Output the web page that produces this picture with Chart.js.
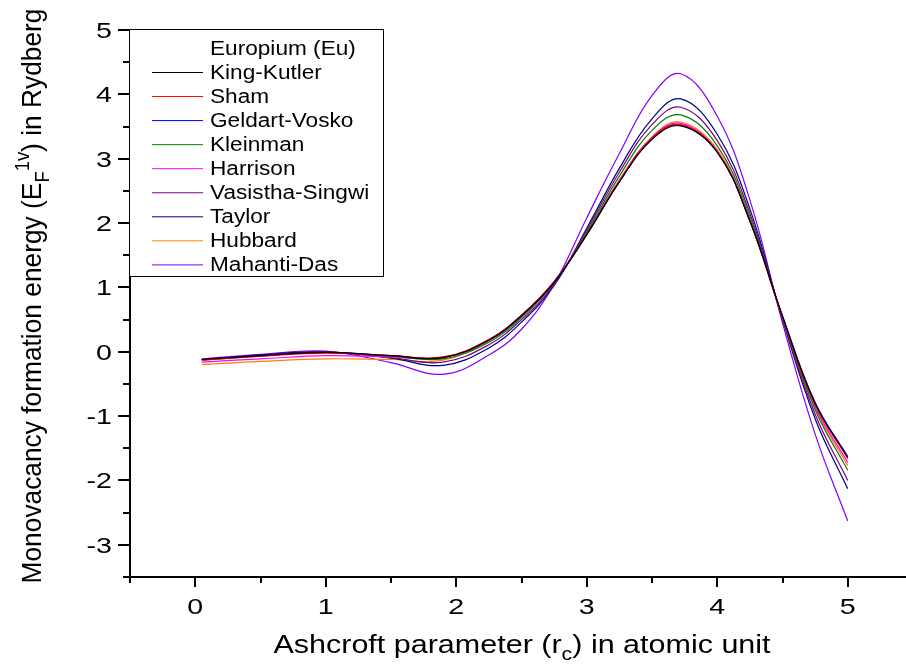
<!DOCTYPE html>
<html>
<head>
<meta charset="utf-8">
<script src="https://cdn.jsdelivr.net/npm/chart.js@4.4.1/dist/chart.umd.min.js"></script>
<style>
  html, body { margin: 0; padding: 0; background: #fff; overflow: hidden; }
  #wrap { width: 920px; height: 664px; }
</style>
</head>
<body>
<div id="wrap"><canvas id="rcChart"></canvas></div>
<script>
// Ashcroft parameter r_c (atomic units)
const rc = [0.05, 0.5, 1.0, 1.5, 1.9, 2.25, 2.5, 2.75, 3.0, 3.25, 3.5, 3.72, 4.0, 4.25, 4.5, 4.75, 5.0];

// monovacancy formation energy, one array per screening function
const kingKutler   = [-0.12, -0.06, -0.01, -0.06, -0.09, 0.18, 0.56, 1.08, 1.82, 2.64, 3.30, 3.51, 3.10, 2.03, 0.55, -0.80, -1.64];
const sham         = [-0.13, -0.07, -0.02, -0.06, -0.08, 0.19, 0.57, 1.09, 1.83, 2.65, 3.32, 3.53, 3.11, 2.03, 0.53, -0.82, -1.66];
const geldartVosko = [-0.12, -0.06, -0.01, -0.06, -0.09, 0.18, 0.56, 1.08, 1.82, 2.64, 3.31, 3.52, 3.10, 2.04, 0.56, -0.79, -1.63];
const kleinman     = [-0.13, -0.07, -0.01, -0.07, -0.11, 0.15, 0.53, 1.07, 1.86, 2.73, 3.44, 3.68, 3.20, 2.10, 0.53, -0.90, -1.84];
const harrison     = [-0.16, -0.11, -0.06, -0.08, -0.09, 0.19, 0.57, 1.09, 1.84, 2.66, 3.33, 3.55, 3.12, 2.04, 0.54, -0.85, -1.72];
const vasistha     = [-0.12, -0.06, 0.00, -0.09, -0.16, 0.11, 0.50, 1.05, 1.89, 2.79, 3.53, 3.80, 3.28, 2.15, 0.52, -0.97, -2.00];
const taylor       = [-0.12, -0.05, 0.00, -0.10, -0.21, 0.06, 0.46, 1.03, 1.92, 2.85, 3.62, 3.93, 3.38, 2.22, 0.50, -1.04, -2.13];
const hubbard      = [-0.20, -0.15, -0.11, -0.12, -0.13, 0.18, 0.56, 1.09, 1.84, 2.67, 3.34, 3.57, 3.14, 2.05, 0.54, -0.87, -1.77];
const mahantiDas   = [-0.11, -0.04, 0.01, -0.17, -0.35, -0.05, 0.35, 1.05, 2.08, 3.08, 3.98, 4.32, 3.66, 2.36, 0.45, -1.28, -2.63];

const seriesNames  = ["King-Kutler", "Sham", "Geldart-Vosko", "Kleinman", "Harrison",
                      "Vasistha-Singwi", "Taylor", "Hubbard", "Mahanti-Das"];
const seriesValues = [kingKutler, sham, geldartVosko, kleinman, harrison,
                      vasistha, taylor, hubbard, mahantiDas];
const seriesColors = ["#000000", "#ff0000", "#0000ff", "#008000", "#ff00ff",
                      "#800080", "#000080", "#ff8000", "#8000ff"];

const legendTitle = "Europium (Eu)";
const xTicks = [0, 1, 2, 3, 4, 5];
const yTicks = [-3, -2, -1, 0, 1, 2, 3, 4, 5];

const FONT = '"Liberation Sans", Arial, sans-serif';

// draws a run of text pieces (normal / sub / sup), horizontally scaled by sx
function drawRuns(ctx, runs, size, sx) {
  const pieces = runs.map(r => {
    const s = r.sub || r.sup ? size * 0.7 : size;
    ctx.font = s + "px " + FONT;
    return { t: r.t, s: s, w: ctx.measureText(r.t).width, sub: r.sub, sup: r.sup };
  });
  let total = 0;
  pieces.forEach(p => { total += p.w; });
  let x = -total / 2;
  pieces.forEach(p => {
    ctx.font = p.s + "px " + FONT;
    let dy = 0;
    if (p.sub) dy = size * 0.28;
    if (p.sup) dy = -size * 0.42;
    ctx.save();
    ctx.scale(sx, 1);
    ctx.fillText(p.t, x, dy);
    ctx.restore();
    x += p.w;
  });
}

function stretched(ctx, text, x, y, size, sx, align) {
  ctx.save();
  ctx.font = size + "px " + FONT;
  ctx.textAlign = align;
  ctx.textBaseline = "alphabetic";
  ctx.translate(x, y);
  ctx.scale(sx, 1);
  ctx.fillText(text, 0, 0);
  ctx.restore();
}

const framePlugin = {
  id: "frame",
  afterDraw(chart) {
    const ctx = chart.ctx;
    const xs = chart.scales.x, ys = chart.scales.y;
    const left = xs.left, bottom = ys.bottom, top = ys.top;
    ctx.save();
    ctx.fillStyle = "#000";
    ctx.strokeStyle = "#000";

    // axis lines
    ctx.lineWidth = 2;
    ctx.beginPath();
    ctx.moveTo(left, top);
    ctx.lineTo(left, bottom);
    ctx.lineTo(chart.width, bottom);
    ctx.stroke();

    // y ticks, major every 1, minor every 0.5
    for (let v = ys.min; v <= ys.max + 1e-9; v += 0.5) {
      const py = Math.round(ys.getPixelForValue(v));
      const major = Math.abs(v - Math.round(v)) < 1e-9;
      ctx.beginPath();
      ctx.moveTo(left, py);
      ctx.lineTo(left - (major ? 12 : 7), py);
      ctx.stroke();
    }
    // x ticks
    for (let v = xs.min; v <= xs.max + 1e-9; v += 0.5) {
      const px = Math.round(xs.getPixelForValue(v));
      const major = Math.abs(v - Math.round(v)) < 1e-9;
      ctx.beginPath();
      ctx.moveTo(px, bottom);
      ctx.lineTo(px, bottom + (major ? 10 : 6));
      ctx.stroke();
    }

    // tick labels
    yTicks.forEach(v => {
      stretched(ctx, String(v), left - 18, ys.getPixelForValue(v) + 8, 22, 1.3, "right");
    });
    xTicks.forEach(v => {
      stretched(ctx, String(v), xs.getPixelForValue(v), bottom + 37, 22, 1.3, "center");
    });

    // axis titles
    ctx.save();
    ctx.translate(522, 653);
    ctx.textAlign = "left";
    drawRuns(ctx, [{ t: "Ashcroft parameter (r" }, { t: "c", sub: true }, { t: ") in atomic unit" }], 25, 1.22);
    ctx.restore();

    ctx.save();
    ctx.translate(41, 296);
    ctx.rotate(-Math.PI / 2);
    ctx.textAlign = "left";
    drawRuns(ctx, [{ t: "Monovacancy formation energy (E" }, { t: "F", sub: true },
                   { t: "1v", sup: true }, { t: ") in Rydberg" }], 28, 0.94);
    ctx.restore();

    // legend box
    const lx = 129.5, ly = 29.5, lw = 254, lh = 247;
    ctx.fillStyle = "#fff";
    ctx.fillRect(lx, ly, lw, lh);
    ctx.lineWidth = 1;
    ctx.strokeRect(lx, ly, lw, lh);
    ctx.fillStyle = "#000";
    stretched(ctx, legendTitle, 210, 55, 19.5, 1.16, "left");
    chart.data.datasets.forEach((ds, i) => {
      const y = 72 + i * 24.05;
      ctx.strokeStyle = ds.borderColor;
      ctx.lineWidth = 1;
      ctx.beginPath();
      ctx.moveTo(152, y + 0.5);
      ctx.lineTo(203, y + 0.5);
      ctx.stroke();
      ctx.fillStyle = "#000";
      stretched(ctx, ds.label, 210, y + 7, 19.5, 1.16, "left");
    });
    ctx.restore();
  }
};

new Chart("rcChart", {
  type: "line",
  data: {
    datasets: seriesNames.map((name, i) => ({
      label: name,
      data: rc.map((x, j) => ({ x: x, y: seriesValues[i][j] })),
      borderColor: seriesColors[i],
      borderWidth: 1.2,
      pointRadius: 0,
      fill: false,
      tension: 0.4
    }))
  },
  options: {
    responsive: true,
    maintainAspectRatio: false,
    animation: false,
    layout: { padding: { left: 130, top: 30, right: 7, bottom: 87 } },
    plugins: {
      legend: { display: false },
      tooltip: { enabled: false }
    },
    scales: {
      x: { type: "linear", min: -0.5, max: 5.5, display: false },
      y: { type: "linear", min: -3.5, max: 5, display: false }
    },
    events: []
  },
  plugins: [framePlugin]
});
</script>
</body>
</html>
